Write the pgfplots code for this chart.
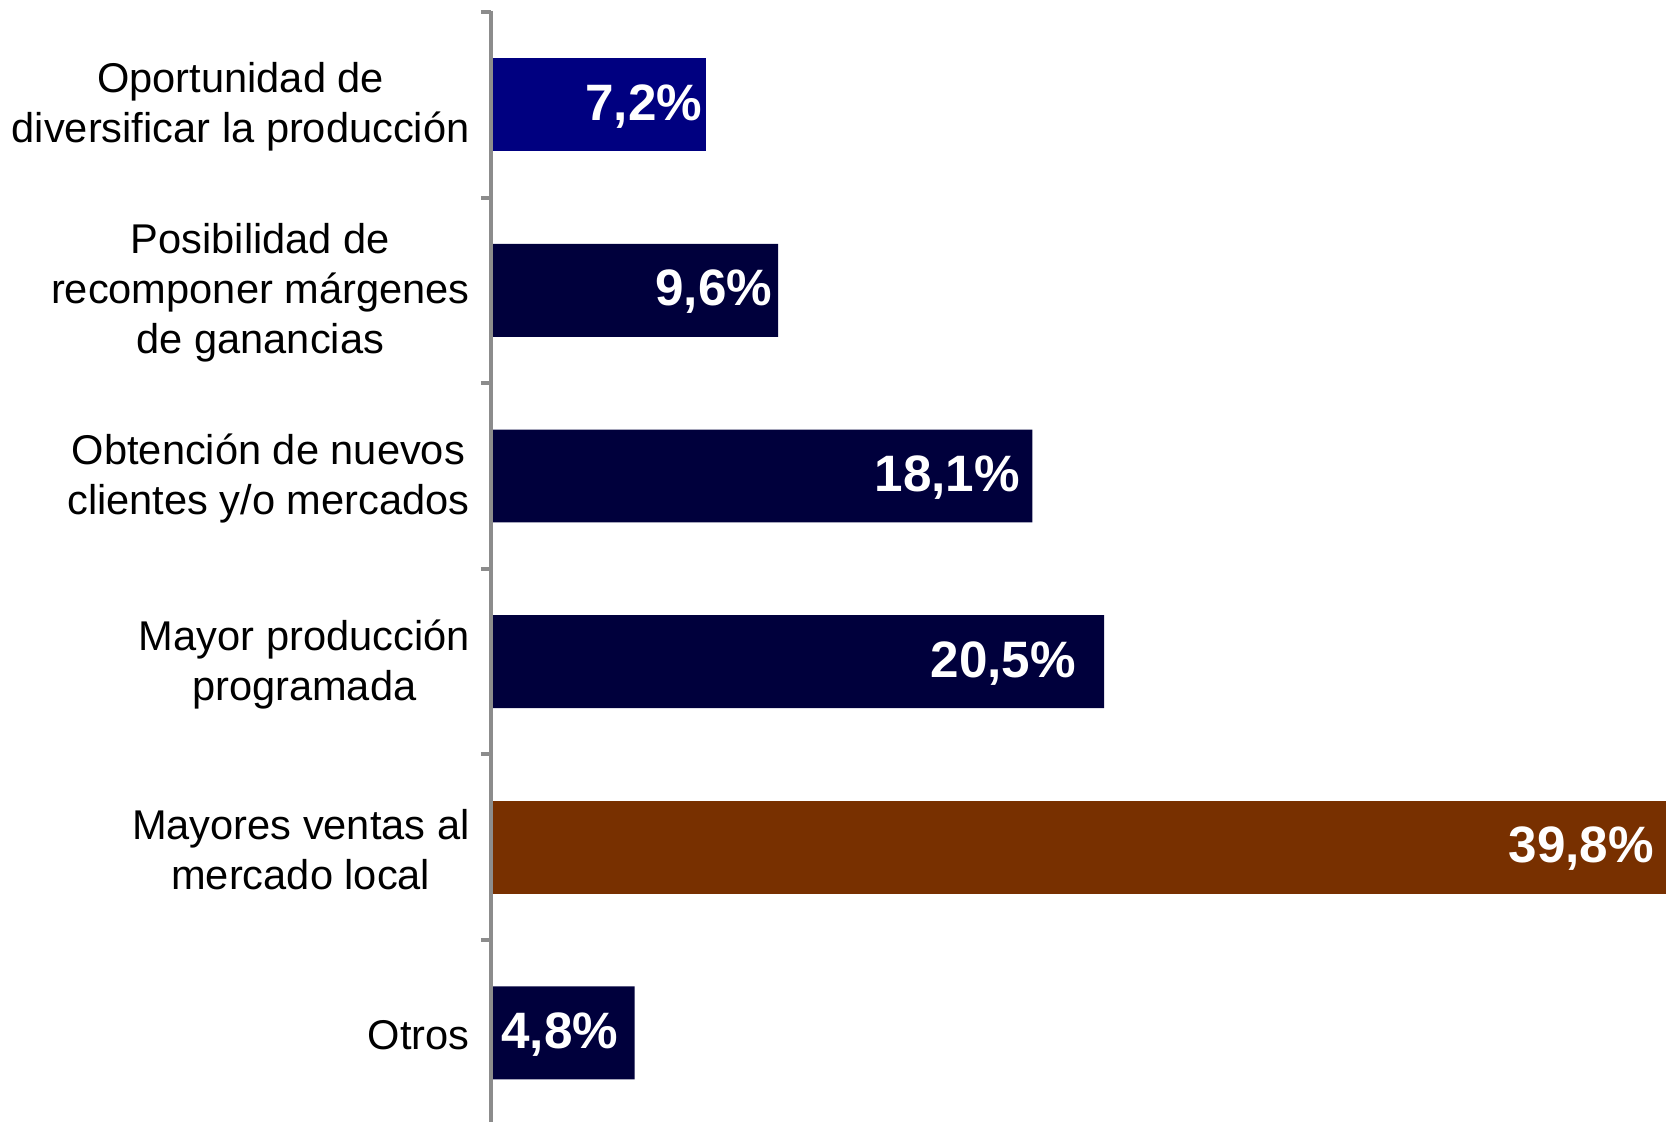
\documentclass[border=0pt]{standalone}
\usepackage{pgfplots}
\pgfplotsset{compat=1.18}
\usepackage{pgfplotstable}
\usepackage{fontspec}
\setmainfont{Liberation Sans}
\definecolor{navyA}{RGB}{0,0,128}
\definecolor{navyB}{RGB}{0,0,60}
\definecolor{brownA}{RGB}{120,48,0}
\definecolor{axgray}{RGB}{140,140,140}

\pgfplotstableread{
x y
7.2 0
}\tblue
\pgfplotstableread{
x y
9.6 1
18.1 2
20.5 3
4.8 5
}\tdark
\pgfplotstableread{
x y
39.8 4
}\tbrown
\pgfplotstableread{
x y lab
7.07 0 {7,2\%}
9.41 1 {9,6\%}
17.69 2 {18,1\%}
19.57 3 {20,5\%}
38.89 4 {39,8\%}
4.26 5 {4,8\%}
}\tlabels

\begin{document}
\begin{tikzpicture}
\begin{axis}[
  at={(0,0)}, anchor=south west,
  scale only axis, width=587.5pt, height=555.5pt,
  xmin=0, xmax=39.28,
  ymin=-0.505, ymax=5.48, y dir=reverse,
  axis x line=none, axis y line*=left,
  separate axis lines,
  axis on top,
  every outer y axis line/.style={draw=axgray, line width=2.4pt},
  xtick=\empty,
  ytick={0,...,5},
  yticklabels={{Oportunidad de\\diversificar la producción},
               {Posibilidad de\\recomponer márgenes\\de ganancias},
               {Obtención de nuevos\\clientes y/o mercados},
               {Mayor producción\\programada},
               {Mayores ventas al\\mercado local},
               {Otros}},
  major tick length=0pt,
  minor ytick={-0.5,0.5,1.5,2.5,3.5,4.5},
  minor tick length=5pt,
  tick align=outside,
  minor tick style={axgray, line width=2pt},
  yticklabel style={align=center, inner sep=0pt, xshift=-10.5pt, yshift=-1.2pt,
    font=\fontsize{20.8}{25}\selectfont, text=black},
]
\addplot[xbar, bar shift=0pt, bar width=0.5, fill=navyA, draw=none] table[x=x,y=y] {\tblue};
\addplot[xbar, bar shift=0pt, bar width=0.5, fill=navyB, draw=none] table[x=x,y=y] {\tdark};
\addplot[xbar, bar shift=0pt, bar width=0.5, fill=brownA, draw=none] table[x=x,y=y] {\tbrown};
\addplot[only marks, mark=none, nodes near coords, point meta=explicit symbolic,
  nodes near coords style={anchor=east, inner sep=0pt, text=white, yshift=-0.8pt,
    font=\bfseries\fontsize{25.6}{30}\selectfont}]
  table[x=x,y=y,meta=lab] {\tlabels};
\end{axis}
\pgfresetboundingbox
\useasboundingbox (-245.5pt,0) rectangle (587.5pt,561pt);
\end{tikzpicture}
\end{document}
